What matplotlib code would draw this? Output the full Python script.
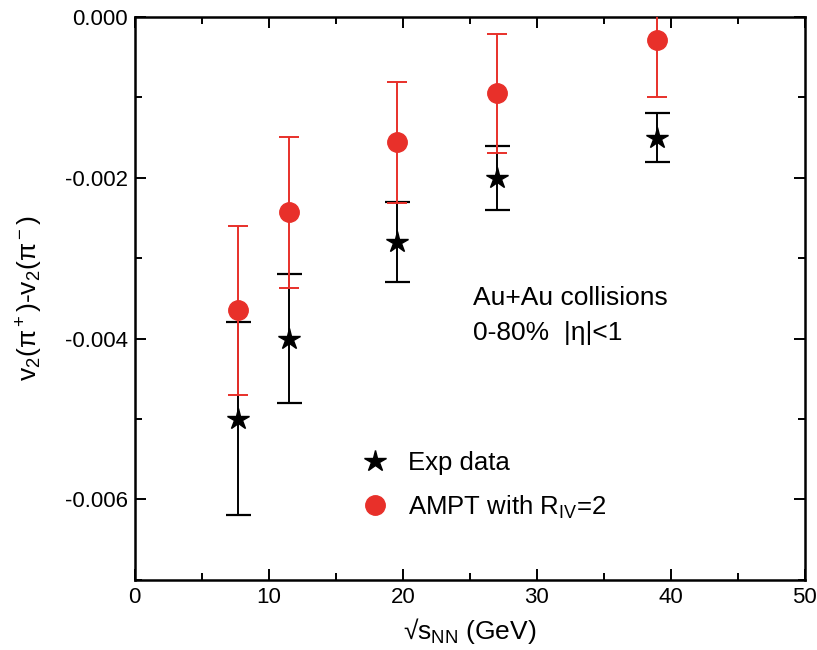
import matplotlib
matplotlib.use("Agg")
import matplotlib.pyplot as plt
from matplotlib.ticker import MultipleLocator, FormatStrFormatter

plt.rcParams['font.family'] = ['Liberation Sans', 'DejaVu Sans']
plt.rcParams['mathtext.fontset'] = 'custom'
plt.rcParams['mathtext.rm'] = 'Liberation Sans'
plt.rcParams['mathtext.it'] = 'Liberation Sans:italic'
plt.rcParams['axes.unicode_minus'] = False

# energies (GeV)
energy = [7.7, 11.5, 19.6, 27, 39]

# experimental data
exp_v2 = [-0.0050, -0.0040, -0.0028, -0.0020, -0.0015]
exp_err = [0.0012, 0.0008, 0.0005, 0.0004, 0.0003]

# AMPT with R_IV=2
ampt_v2 = [-0.00365, -0.00243, -0.00156, -0.00095, -0.00029]
ampt_err = [0.00105, 0.00094, 0.00075, 0.00074, 0.00071]

red = '#e8302a'

fig = plt.figure(figsize=(8.17, 6.5), dpi=100)
ax = fig.add_axes([0.165, 0.108, 0.820, 0.866])

#error bars first, markers on top
ax.errorbar(energy, exp_v2, yerr=exp_err, fmt='none', ecolor='black',
            elinewidth=1.4, capsize=9, capthick=1.6, zorder=2)
ax.errorbar(energy, ampt_v2, yerr=ampt_err, fmt='none', ecolor=red,
            elinewidth=1.4, capsize=7, capthick=1.4, zorder=3)
ax.plot(energy, exp_v2, linestyle='none', marker='*', color='black',
        markersize=16, label='Exp data', zorder=4)
ax.plot(energy, ampt_v2, linestyle='none', marker='o', color=red,
        markersize=14, label='AMPT with R$_{\\mathrm{IV}}$=2', zorder=5)

ax.set_xlim(0, 50)
ax.set_ylim(-0.007, 0.0)
ax.xaxis.set_major_locator(MultipleLocator(10))
ax.xaxis.set_minor_locator(MultipleLocator(5))
ax.yaxis.set_major_locator(MultipleLocator(0.002))
ax.yaxis.set_minor_locator(MultipleLocator(0.001))
ax.yaxis.set_major_formatter(FormatStrFormatter('%.3f'))

ax.tick_params(which='both', direction='in', top=True, right=True,
               width=1.4, labelsize=16)
ax.tick_params(which='major', length=8, pad=5)
ax.tick_params(which='minor', length=5)
for sp in ax.spines.values():
    sp.set_linewidth(1.8)

ax.set_xlabel('√s$_{\\mathrm{NN}}$ (GeV)', fontsize=19, labelpad=6)
ax.set_ylabel('v$_2$(π$^+$)-v$_2$(π$^-$)', fontsize=19, labelpad=14)

ax.text(0.505, 0.522, 'Au+Au collisions\n0-80%  |η|<1', transform=ax.transAxes,
        fontsize=19, va='top', ha='left', linespacing=1.6)

ax.legend(loc='upper left', bbox_to_anchor=(0.293, 0.27), frameon=False,
          fontsize=18.5, handletextpad=0.5, labelspacing=0.72, numpoints=1,
          handlelength=1.6)

fig.savefig('out.png', dpi=100)
